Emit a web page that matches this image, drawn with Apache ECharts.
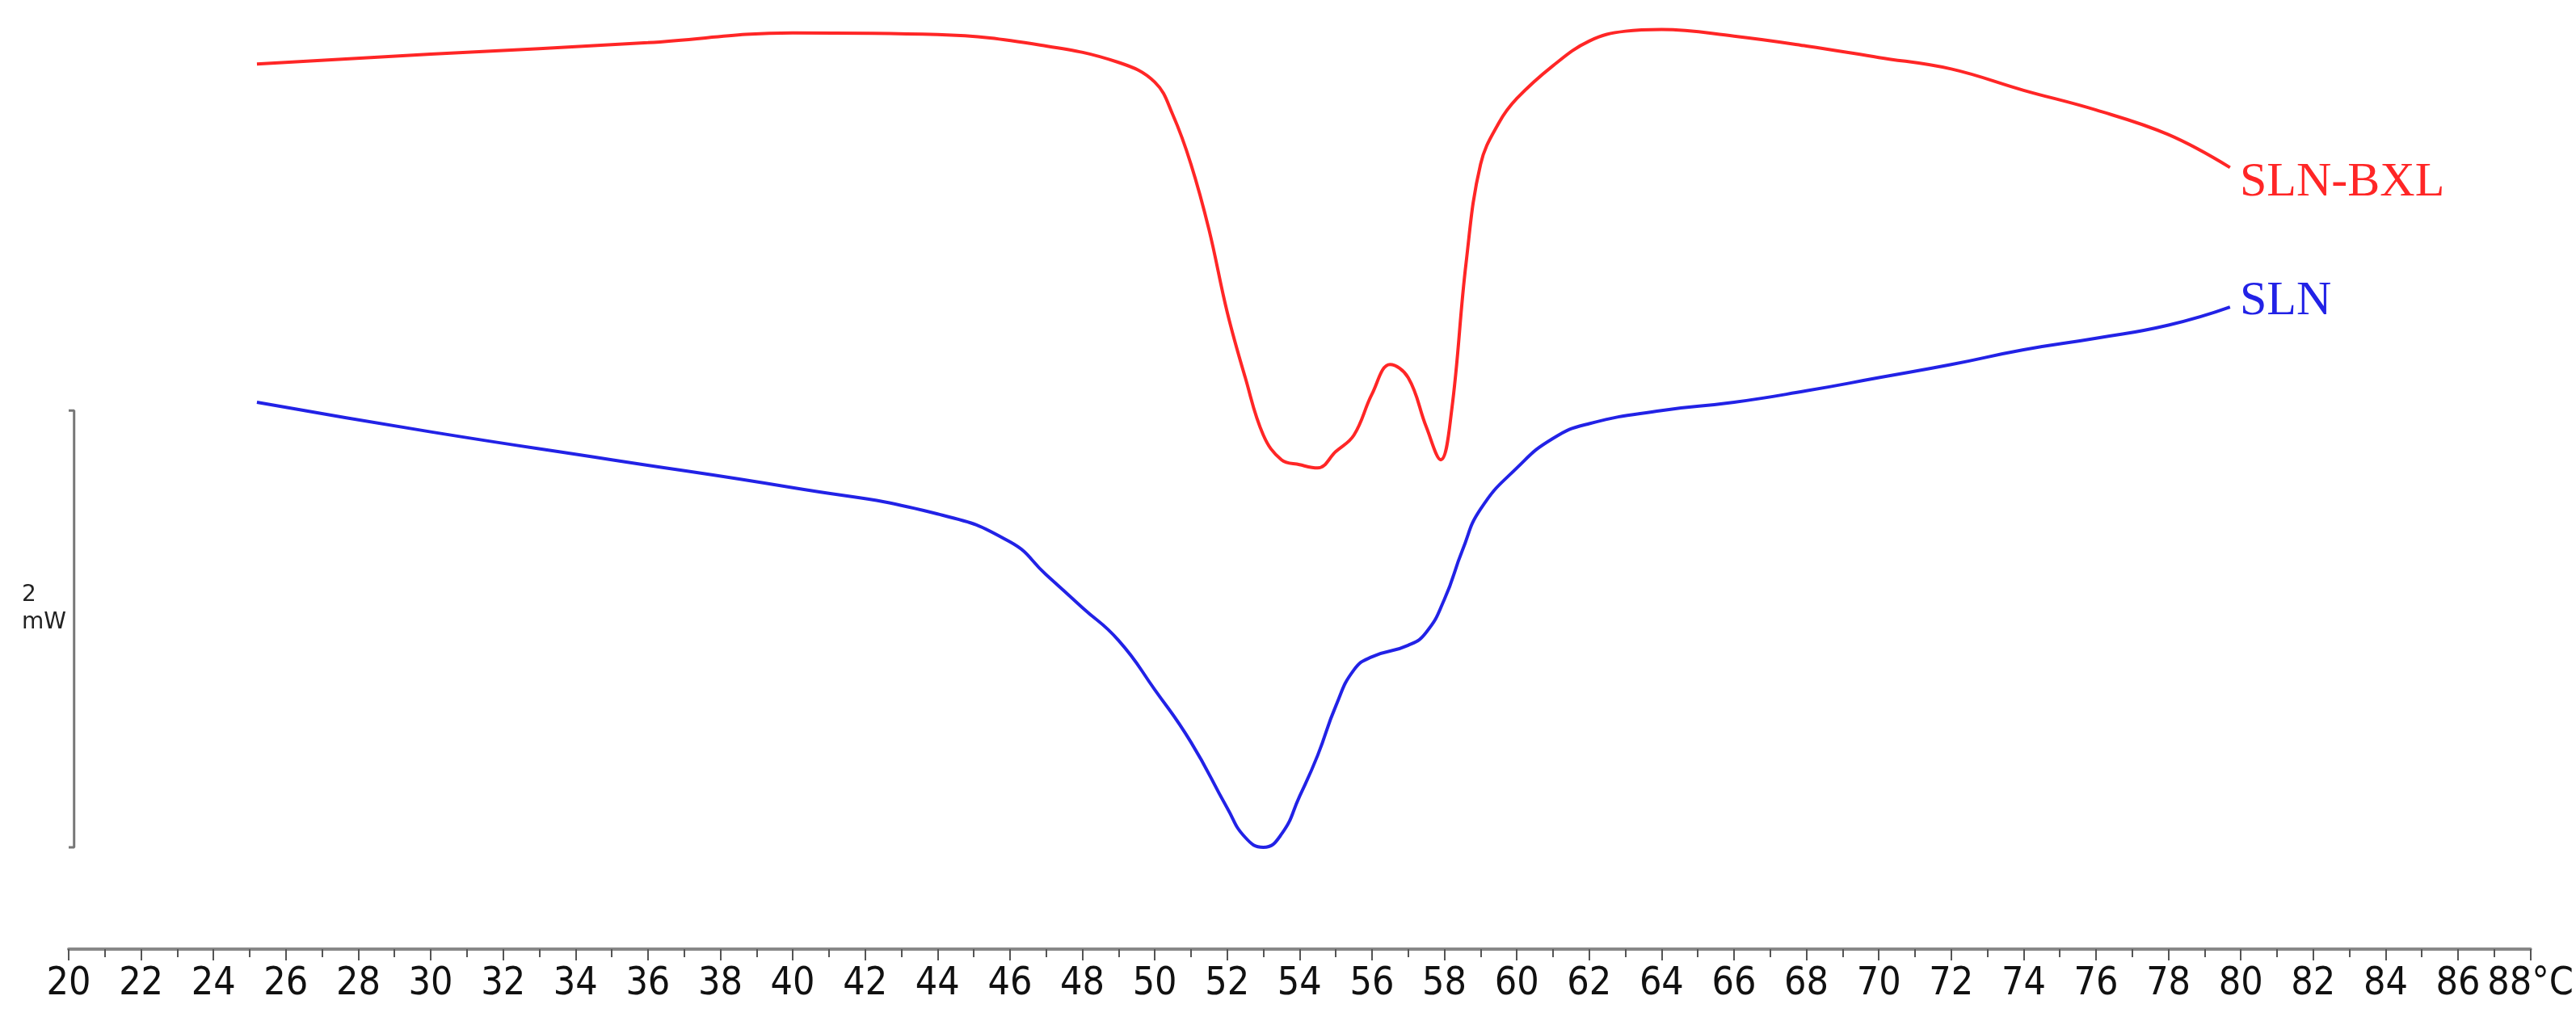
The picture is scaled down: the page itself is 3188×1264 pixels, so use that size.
<!DOCTYPE html>
<html>
<head>
<meta charset="utf-8">
<script src="https://cdn.jsdelivr.net/npm/echarts@6/dist/echarts.min.js"></script>
<style>html,body{margin:0;background:#fff}#c{width:3188px;height:1264px}</style>
</head>
<body>
<div id="c"></div>
<script>
// DSC 曲线：温度 (°C) 与热流信号（相对刻度，数值越大越靠下）
const tempRed = [25.2, 30, 36, 40, 44, 47, 49, 50, 50.5, 51, 51.5, 52, 52.5, 53, 53.5, 54, 54.5, 55, 55.5, 56, 56.5, 57, 57.5, 57.9, 58.2, 58.6, 59, 59.5, 60, 61, 62, 63, 64, 66, 68, 70, 72, 74, 76, 78, 79.7];
const sigRed = [39, 33, 26, 20, 21, 28, 38, 50, 70, 100, 140, 190, 230, 265, 280, 283, 285, 275, 265, 240, 222, 230, 260, 280, 250, 160, 100, 75, 60, 40, 25, 19, 18, 22, 28, 35, 42, 55, 67, 82, 102];
const tempBlue = [25.2, 30, 35, 40, 44, 46, 47, 48, 49, 50, 51, 52, 52.5, 53, 53.5, 54, 54.5, 55, 55.5, 56, 57, 57.5, 58, 58.5, 59, 60, 61, 62, 64, 66, 68, 70, 72, 74, 76, 78, 79.7];
const sigBlue = [245, 263, 280, 297, 313, 330, 350, 370, 390, 420, 452, 492, 510, 516, 508, 485, 460, 430, 408, 400, 393, 385, 365, 335, 310, 285, 267, 258, 250, 245, 238, 230, 222, 213, 206, 198, 187];
// 2 mW 比例尺（竖线两端）
const scaleBar = [[20.0, 250], [20.15, 250], [20.15, 516], [20.0, 516]];

const zip = (xs, ys) => xs.map((x, i) => [x, ys[i]]);
const chart = echarts.init(document.getElementById('c'));
chart.setOption({
    animation: false,
    grid: { left: 85, right: 41, top: 0, bottom: 89 },
    xAxis: {
        type: 'value', min: 20, max: 88, interval: 2,
        axisLine: { onZero: false, lineStyle: { color: '#888', width: 4 } },
        axisTick: { length: 14, lineStyle: { color: '#555', width: 2 } },
        minorTick: { show: true, splitNumber: 2, length: 10, lineStyle: { color: '#555', width: 2 } },
        splitLine: { show: false },
        axisLabel: {
            margin: 20, fontSize: 48, color: '#111', fontFamily: 'DejaVu Sans Condensed, sans-serif',
            formatter: v => v === 88 ? '88°C' : String(v)
        }
    },
    yAxis: { type: 'value', inverse: true, min: 0, max: 578, show: false },
    series: [
        { type: 'line', data: zip(tempRed, sigRed), smooth: 0.4, showSymbol: false, lineStyle: { color: '#ff2626', width: 4 } },
        { type: 'line', data: zip(tempBlue, sigBlue), smooth: 0.5, showSymbol: false, lineStyle: { color: '#2222e6', width: 4 } },
        { type: 'line', data: scaleBar, showSymbol: false, lineStyle: { color: '#777', width: 3 } }
    ],
    graphic: [
        { type: 'text', left: 2772, top: 196, style: { text: 'SLN-BXL', fill: '#ff2626', fontSize: 60, fontFamily: 'Liberation Serif, serif' } },
        { type: 'text', left: 2772, top: 343, style: { text: 'SLN', fill: '#2222e6', fontSize: 60, fontFamily: 'Liberation Serif, serif' } },
        { type: 'text', right: 3188 - 82, top: 720, style: { text: '2\nmW', align: 'right', fill: '#222', fontSize: 28, lineHeight: 34, fontFamily: 'DejaVu Sans, sans-serif' } }
    ]
});
</script>
</body>
</html>
